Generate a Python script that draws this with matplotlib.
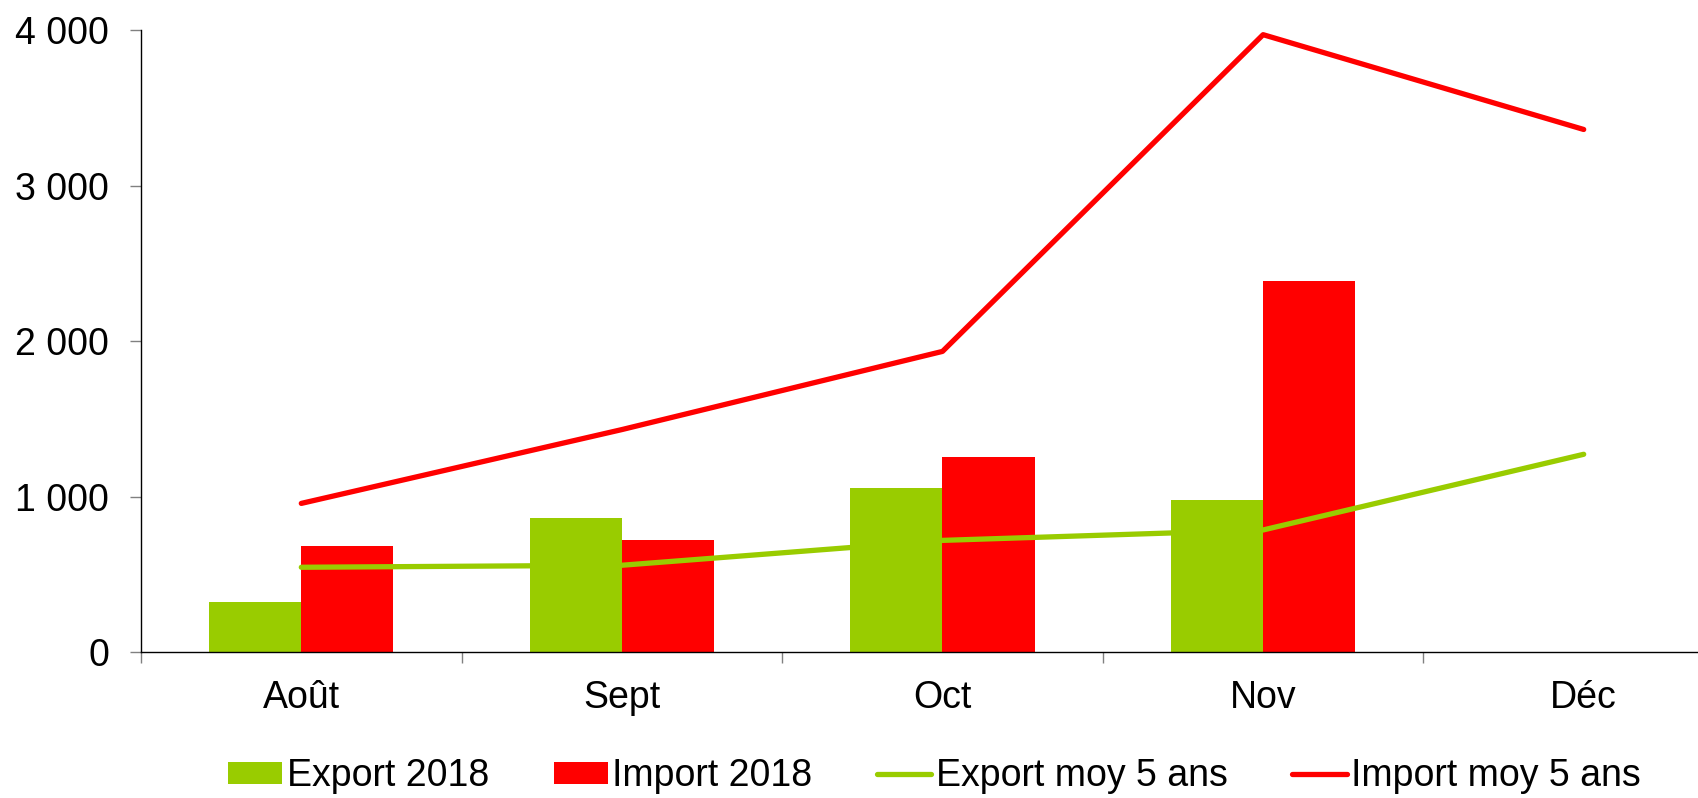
import matplotlib
matplotlib.use("Agg")
import matplotlib.pyplot as plt
import numpy as np
from matplotlib.ticker import FuncFormatter, FixedLocator

plt.rcParams['font.family'] = ['Liberation Sans', 'DejaVu Sans']

months = ["Août", "Sept", "Oct", "Nov", "Déc"]
export_2018 = [321, 859, 1054, 975]
import_2018 = [684, 719, 1257, 2384]
export_moy5 = [545, 558, 718, 785, 1272]
import_moy5 = [956, 1431, 1934, 3972, 3362]

green = "#99CC00"
red = "#FF0000"
FS = 27

fig = plt.figure(figsize=(16.99, 7.98), dpi=100)
ax = fig.add_axes([141/1699, 0.183, 1603/1699, 0.779])

x = np.arange(len(months))
w = 0.287
xb = np.arange(len(export_2018))
b1 = ax.bar(xb - w/2, export_2018, width=w, color=green, label="Export 2018", zorder=2)
b2 = ax.bar(xb + w/2, import_2018, width=w, color=red, label="Import 2018", zorder=2)
l1, = ax.plot(x, export_moy5, color=green, lw=3.8, label="Export moy 5 ans", zorder=3,
              solid_capstyle='round', solid_joinstyle='round')
l2, = ax.plot(x, import_moy5, color=red, lw=3.8, label="Import moy 5 ans", zorder=3,
              solid_capstyle='round', solid_joinstyle='round')

ax.set_xlim(-0.5, len(months) - 0.5)
ax.set_ylim(0, 4000)
ax.set_yticks([0, 1000, 2000, 3000, 4000])
ax.yaxis.set_major_formatter(FuncFormatter(lambda v, p: f"{int(v):,}".replace(",", " ")))
ax.set_xticks(x)
ax.set_xticklabels(months)
ax.xaxis.set_minor_locator(FixedLocator(np.arange(-0.5, len(months), 1.0)))
ax.tick_params(axis='x', which='major', length=0, pad=20, labelsize=FS)
ax.tick_params(axis='x', which='minor', length=8, color='#808080', width=1)
ax.tick_params(axis='y', length=8, color='#808080', width=1, pad=15, labelsize=FS)

for s in ['top', 'right']:
    ax.spines[s].set_visible(False)
ax.spines['left'].set_color('black')
ax.spines['bottom'].set_color('black')
ax.spines['left'].set_linewidth(1)
ax.spines['bottom'].set_linewidth(1)

fig.legend([b1, b2, l1, l2], ["Export 2018", "Import 2018", "Export moy 5 ans", "Import moy 5 ans"],
           loc='center', bbox_to_anchor=(0.55, 0.027), ncol=4, frameon=False,
           fontsize=FS, handlelength=1.45, handleheight=0.55, handletextpad=0.12,
           columnspacing=1.72, borderaxespad=0, borderpad=0)

fig.savefig("out.png", dpi=100)
